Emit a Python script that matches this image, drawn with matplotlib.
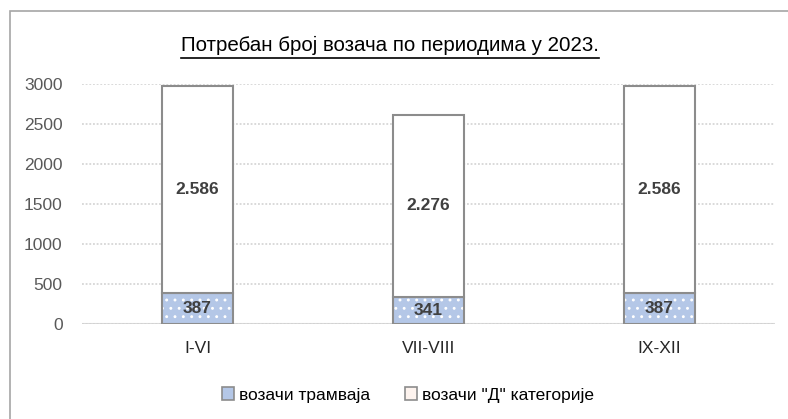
import matplotlib.pyplot as plt
from matplotlib.patches import Rectangle, Patch
from matplotlib.lines import Line2D

plt.rcParams['font.family'] = ['Liberation Sans', 'DejaVu Sans']

##### DATA #####
periods = ['I-VI', 'VII-VIII', 'IX-XII']
tram_drivers = [387, 341, 387]
d_drivers = [2586, 2276, 2586]
labels_tram = ['387', '341', '387']
labels_d = ['2.586', '2.276', '2.586']
series_names = ['возачи трамваја', 'возачи "Д" категорије']
title = 'Потребан број возача по периодима у 2023.'
yticks = [0, 500, 1000, 1500, 2000, 2500, 3000]

edge = '#8c8c8c'
blue = '#b4c7e7'

fig = plt.figure(figsize=(7.88, 4.19), dpi=100)
ax = fig.add_axes([82 / 788, 1 - 324 / 419, (775 - 82) / 788, 240 / 419])

# outer chart border (right and bottom edges run off the picture)
fig.patches.append(Rectangle((10 / 788, -0.1), 1.2, 1.1 - 11 / 419, transform=fig.transFigure,
                             fill=False, edgecolor='#a6a6a6', linewidth=1.2))

x = range(len(periods))
w = 0.31
plt.rcParams['hatch.linewidth'] = 0.9
plt.rcParams['hatch.color'] = 'white'

# blue bars with white dots, then grey outline on top
ax.bar(x, tram_drivers, width=w, color=blue, edgecolor='white', hatch='..', linewidth=0, zorder=2)
ax.bar(x, tram_drivers, width=w, fill=False, edgecolor=edge, linewidth=1.5, zorder=3)
ax.bar(x, d_drivers, width=w, bottom=tram_drivers, color='white', edgecolor=edge, linewidth=1.5, zorder=3)

for i in x:
    ax.text(i, tram_drivers[i] / 2, labels_tram[i], ha='center', va='center',
            fontsize=12.5, fontweight='bold', color='#404040', zorder=4)
    ax.text(i, tram_drivers[i] + d_drivers[i] / 2, labels_d[i], ha='center', va='center',
            fontsize=12.5, fontweight='bold', color='#404040', zorder=4)

ax.set_xlim(-0.5, 2.5)
ax.set_ylim(0, 3000)
ax.set_yticks(yticks)
ax.set_xticks(list(x))
ax.set_xticklabels(periods)
ax.tick_params(axis='both', length=0, labelsize=12.5, colors='#595959')
ax.tick_params(axis='x', pad=12)
ax.tick_params(axis='y', pad=14)
for t in ax.get_xticklabels():
    t.set_color('#262626')

ax.grid(axis='y', color='#d0d0d0', linestyle=(0, (1.2, 1.2)), linewidth=1.1, zorder=0)
ax.axhline(0, color='#d9d9d9', linewidth=1.5, zorder=1)
for s in ax.spines.values():
    s.set_visible(False)

# title with underline
tt = fig.text(390 / 788, 1 - 45 / 419, title, ha='center', va='center', fontsize=14.8, color='black')
fig.canvas.draw()
bb = tt.get_window_extent()
fig.add_artist(Line2D([bb.x0 / 788, bb.x1 / 788], [1 - 58 / 419, 1 - 58 / 419],
                      transform=fig.transFigure, color='black', linewidth=1.2))

handles = [Patch(facecolor=blue, edgecolor=edge, linewidth=1.2),
           Patch(facecolor='#fdf3ee', edgecolor=edge, linewidth=1.2)]
fig.legend(handles, series_names, loc='center', bbox_to_anchor=(408 / 788, 1 - 395 / 419),
           ncol=2, frameon=False, fontsize=12.5, handlelength=0.7, handleheight=0.7,
           handletextpad=0.3, columnspacing=2.0)

plt.savefig('out.png', dpi=100)
